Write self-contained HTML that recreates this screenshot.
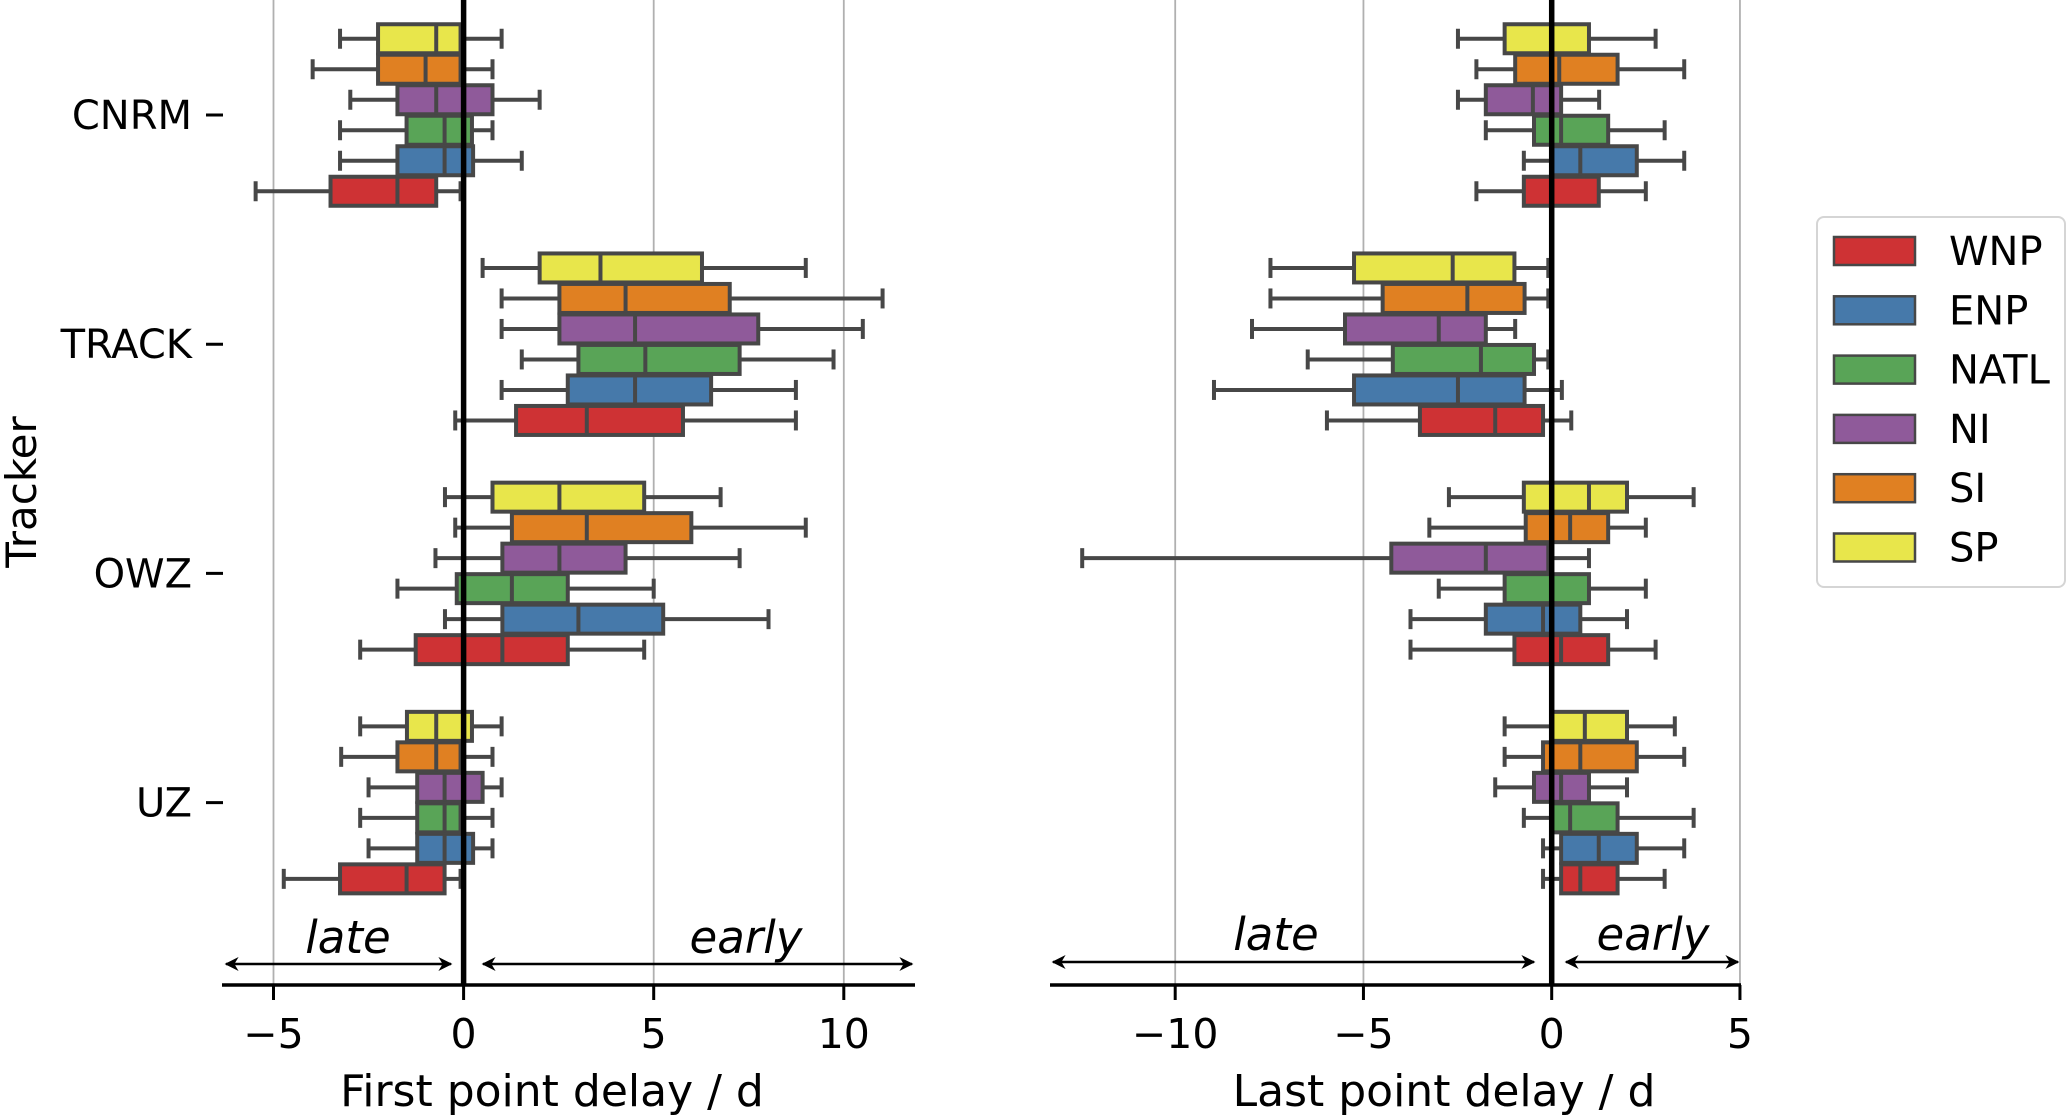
<!DOCTYPE html>
<html><head><meta charset="utf-8"><style>
html,body{margin:0;padding:0;background:#fff;}
svg{display:block;font-family:"DejaVu Sans","Liberation Sans",sans-serif;}
</style></head><body>
<svg id="chart" width="2067" height="1115" viewBox="0 0 2067 1115" xmlns="http://www.w3.org/2000/svg"></svg>
<script>
const trackers = ["CNRM","TRACK","OWZ","UZ"];
const regions = ["WNP","ENP","NATL","NI","SI","SP"];
const colors = ["#ce3234","#4679aa","#59a457","#8f5a9a","#e08022","#e8e64b"];
// each entry: [whiskerLow, q1, median, q3, whiskerHigh], per tracker, per region (WNP..SP)
const firstDelay = [
  [[-5.47,-3.5,-1.74,-0.72,-0.08],[-3.25,-1.74,-0.5,0.25,1.53],[-3.25,-1.5,-0.5,0.22,0.76],[-2.98,-1.74,-0.72,0.76,2.0],[-3.97,-2.25,-1.0,-0.08,0.76],[-3.25,-2.25,-0.72,-0.08,1.0]],
  [[-0.22,1.38,3.24,5.77,8.74],[1.0,2.74,4.51,6.51,8.74],[1.53,3.02,4.78,7.26,9.73],[1.0,2.52,4.51,7.75,10.5],[1.0,2.52,4.26,7.0,11.02],[0.5,2.0,3.6,6.27,9.0]],
  [[-2.72,-1.26,1.02,2.74,4.75],[-0.49,1.02,3.02,5.25,8.02],[-1.74,-0.18,1.27,2.74,5.0],[-0.74,1.02,2.52,4.26,7.26],[-0.22,1.27,3.24,5.99,9.0],[-0.49,0.76,2.52,4.75,6.76]],
  [[-4.73,-3.25,-1.5,-0.5,-0.08],[-2.5,-1.22,-0.5,0.25,0.76],[-2.72,-1.22,-0.5,-0.08,0.76],[-2.5,-1.22,-0.5,0.5,1.0],[-3.22,-1.74,-0.72,-0.08,0.76],[-2.72,-1.49,-0.72,0.22,1.0]]
];
const lastDelay = [
  [[-2.0,-0.74,0,1.25,2.5],[-0.74,0,0.76,2.26,3.52],[-1.75,-0.47,0.25,1.5,3.0],[-2.49,-1.75,-0.5,0.25,1.26],[-2.0,-0.97,0.2,1.75,3.52],[-2.49,-1.25,0,0.99,2.76]],
  [[-5.97,-3.5,-1.5,-0.23,0.52],[-8.97,-5.25,-2.49,-0.72,0.27],[-6.48,-4.22,-1.88,-0.47,-0.09],[-7.96,-5.49,-3.0,-1.75,-0.97],[-7.47,-4.49,-2.24,-0.72,-0.09],[-7.47,-5.25,-2.63,-0.99,-0.09]],
  [[-3.75,-0.99,0.25,1.5,2.76],[-3.75,-1.75,-0.23,0.76,2.0],[-3.0,-1.25,0,0.99,2.5],[-12.47,-4.26,-1.75,-0.09,0.99],[-3.25,-0.69,0.49,1.5,2.5],[-2.73,-0.74,0.99,2.0,3.77]],
  [[-0.23,0.25,0.76,1.75,3.0],[-0.23,0.25,1.25,2.26,3.52],[-0.74,0,0.49,1.75,3.77],[-1.5,-0.47,0.25,0.99,2.0],[-1.25,-0.23,0.76,2.26,3.52],[-1.25,0,0.88,2.0,3.27]]
];
const leftTicks = [-5,0,5,10];
const rightTicks = [-10,-5,0,5];
const leftTickLabels = ["\u22125","0","5","10"];
const rightTickLabels = ["\u221210","\u22125","0","5"];

const NS = "http://www.w3.org/2000/svg";
const svg = document.getElementById('chart');
function mk(tag, attrs, parent){const e=document.createElementNS(NS,tag);for(const k in attrs)e.setAttribute(k,attrs[k]);(parent||svg).appendChild(e);return e;}

const axisY = 985;
const catY = i => 115 + i*229.2;
const slot = 30.5;
const hueY = (c,h) => catY(c) + (2.5 - h)*slot;
const panels = [
  {name:"first", data:firstDelay, x0:463.6, k:38.02, ax0:222, ax1:915, ticks:leftTicks, labels:leftTickLabels, grid:[-5,5,10], xlabel:"First point delay / d", xlabelX:552,
   late:[226,451], early:[483,912], lateX:348, earlyX:746, arrowY:964, textY:953},
  {name:"last", data:lastDelay, x0:1551.7, k:37.65, ax0:1050, ax1:1741, ticks:rightTicks, labels:rightTickLabels, grid:[-10,-5,5], xlabel:"Last point delay / d", xlabelX:1444,
   late:[1053,1534], early:[1566,1738], lateX:1276, earlyX:1653, arrowY:962, textY:950}
];

mk('defs',{}).innerHTML = '<marker id="ah" viewBox="0 0 10 10" refX="9" refY="5" markerWidth="16" markerHeight="14" orient="auto-start-reverse" markerUnits="userSpaceOnUse"><path d="M0,0 L10,5 L0,10 L3,5 z" fill="#000"/></marker>';

panels.forEach(p=>{
  const X = v => p.x0 + v*p.k;
  const g = mk('g',{});
  
  
  p.grid.forEach(v=>{
    const l = mk('line',{x1:X(v),x2:X(v),y1:0,y2:axisY,stroke:'#b0b0b0','stroke-width':1.8},g);
    
    
  });
  p.data.forEach((tr,c)=>{
    tr.forEach((d,h)=>{
      const y = hueY(c,h);
      const bg = mk('g',{},g);
      
      
      const st = {stroke:'#474747','stroke-width':4};
      mk('line',Object.assign({x1:X(d[0]),x2:X(d[1]),y1:y,y2:y},st),bg);
      mk('line',Object.assign({x1:X(d[3]),x2:X(d[4]),y1:y,y2:y},st),bg);
      mk('line',Object.assign({x1:X(d[0]),x2:X(d[0]),y1:y-10,y2:y+10},st),bg);
      mk('line',Object.assign({x1:X(d[4]),x2:X(d[4]),y1:y-10,y2:y+10},st),bg);
      mk('rect',Object.assign({x:X(d[1]),y:y-14.5,width:X(d[3])-X(d[1]),height:29,fill:colors[h]},st),bg);
      mk('line',Object.assign({x1:X(d[2]),x2:X(d[2]),y1:y-14.5,y2:y+14.5},st),bg);
    });
  });
  const z = mk('line',{x1:X(0),x2:X(0),y1:0,y2:axisY,stroke:'#000','stroke-width':5.5},g);
  
  
  const ax = mk('line',{x1:p.ax0,x2:p.ax1,y1:axisY,y2:axisY,stroke:'#000','stroke-width':3.5},g);
  
  
  p.ticks.forEach((v,i)=>{
    mk('line',{x1:X(v),x2:X(v),y1:axisY,y2:axisY+15,stroke:'#000','stroke-width':3},g);
    const t = mk('text',{x:X(v),y:1048,'text-anchor':'middle','font-size':41,fill:'#000'},g);
    t.textContent = p.labels[i];
    
    
  });
  const xl = mk('text',{x:p.xlabelX,y:1106,'text-anchor':'middle','font-size':44,fill:'#000'},g);
  xl.textContent = p.xlabel;
  
  
  const a1 = mk('line',{x1:p.late[0],x2:p.late[1],y1:p.arrowY,y2:p.arrowY,stroke:'#000','stroke-width':2.5,'marker-start':'url(#ah)','marker-end':'url(#ah)'},g);
  
  
  const a2 = mk('line',{x1:p.early[0],x2:p.early[1],y1:p.arrowY,y2:p.arrowY,stroke:'#000','stroke-width':2.5,'marker-start':'url(#ah)','marker-end':'url(#ah)'},g);
  
  
  const lt = mk('text',{x:p.lateX,y:p.textY,'text-anchor':'middle','font-size':45,'font-style':'italic',fill:'#000'},g);
  lt.textContent='late';
  
  
  const et = mk('text',{x:p.earlyX,y:p.textY,'text-anchor':'middle','font-size':45,'font-style':'italic',fill:'#000'},g);
  et.textContent='early';
  
  
});

trackers.forEach((t,i)=>{
  mk('line',{x1:206,x2:223,y1:catY(i),y2:catY(i),stroke:'#000','stroke-width':3});
  const tx = mk('text',{x:192,y:catY(i)+14,'text-anchor':'end','font-size':40,fill:'#000'});
  tx.textContent = t;
  
  
});
const yt = mk('text',{x:0,y:0,'text-anchor':'middle','font-size':42,fill:'#000',transform:'translate(36,492) rotate(-90)'});
yt.textContent='Tracker';



const lg = mk('g',{});


mk('rect',{x:1817,y:217,width:248,height:370,rx:7,fill:'#fff',stroke:'#d5d5d5','stroke-width':2},lg);
regions.forEach((r,i)=>{
  const y = 251 + i*59.3;
  const e = mk('g',{},lg);
  
  
  mk('rect',{x:1834,y:y-14,width:81,height:28,fill:colors[i],stroke:'#474747','stroke-width':2.5},e);
  const t = mk('text',{x:1949,y:y+14,'font-size':40,fill:'#000'},e);
  t.textContent = r;
});
</script>
</body></html>
